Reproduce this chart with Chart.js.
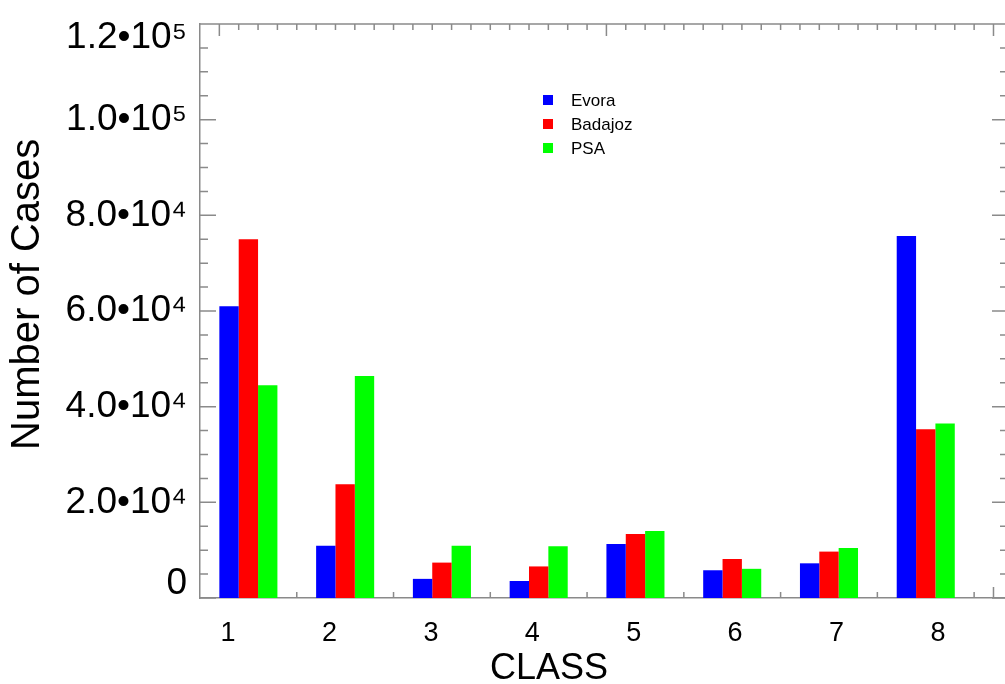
<!DOCTYPE html>
<html>
<head>
<meta charset="utf-8">
<script src="https://cdn.jsdelivr.net/npm/chart.js@4.4.1/dist/chart.umd.min.js"></script>
<style>
html, body { margin: 0; padding: 0; background: #ffffff; overflow: hidden; }
#wrap { position: absolute; left: 0; top: 0; width: 1016px; height: 684px; }
</style>
</head>
<body>
<div id="wrap"><canvas id="chart"></canvas></div>
<script>
// ---- data ----
const classes = [1, 2, 3, 4, 5, 6, 7, 8];
const classLabels = ['1', '2', '3', '4', '5', '6', '7', '8'];
const evora   = [61000, 10900, 4000, 3550, 11300, 5800, 7250, 75700];
const badajoz = [75000, 23800, 7400, 6600, 13400, 8150, 9700, 35300];
const psa     = [44500, 46400, 10900, 10800, 14000, 6100, 10450, 36500];
const seriesNames = ['Evora', 'Badajoz', 'PSA'];
const yTickValues = [0, 20000, 40000, 60000, 80000, 100000, 120000];
const yTickLabels = ['0', '2.0•10⁴', '4.0•10⁴', '6.0•10⁴', '8.0•10⁴', '1.0•10⁵', '1.2•10⁵'];

// ---- style ----
const seriesColors = ['#0000ff', '#ff0000', '#00ff00'];
const axisColor = '#8a8a8a';
const FONT = '"Liberation Sans", Arial, Helvetica, sans-serif';

const seriesData = [evora, badajoz, psa];

const frameTicks = {
  id: 'frameTicks',
  afterDatasetsDraw(chart) {
    const { ctx, chartArea: a, scales: { x, y } } = chart;
    ctx.save();
    ctx.strokeStyle = axisColor;
    ctx.lineWidth = 1.5;
    ctx.beginPath();
    ctx.moveTo(a.left, a.top); ctx.lineTo(a.right, a.top); ctx.lineTo(a.right, a.bottom);
    for (let v = 0; v <= 120000; v += 5000) {
      const p = y.getPixelForValue(v);
      const len = v % 20000 === 0 ? 16 : 8;
      ctx.moveTo(a.left, p); ctx.lineTo(a.left + len, p);
      ctx.moveTo(a.right, p); ctx.lineTo(a.right - len, p);
    }
    for (let k = 0; k <= 40; k++) {
      const p = x.getPixelForValue(0.7 + 0.2 * k);
      const len = k % 20 === 0 ? 12 : 6;
      ctx.moveTo(p, a.top); ctx.lineTo(p, a.top + len);
    }
    for (let k = 0; k < 8; k++) {
      const p = x.getPixelForValue(1.5 + k);
      ctx.moveTo(p, a.bottom); ctx.lineTo(p, a.bottom - 6);
    }
    const pe = x.getPixelForValue(8.7);
    ctx.moveTo(pe, a.bottom); ctx.lineTo(pe, a.bottom - 11);
    ctx.stroke();
    ctx.restore();
  }
};

const boxLegend = {
  id: 'boxLegend',
  afterDraw(chart) {
    const { ctx } = chart;
    ctx.save();
    ctx.font = '17px ' + FONT;
    ctx.textBaseline = 'middle';
    ctx.textAlign = 'left';
    chart.data.datasets.forEach((ds, i) => {
      const cy = 100 + 24 * i;
      ctx.fillStyle = ds.backgroundColor;
      ctx.fillRect(543, cy - 5, 10, 10);
      ctx.fillStyle = '#000000';
      ctx.fillText(ds.label, 571, cy + 1);
    });
    ctx.restore();
  }
};

new Chart(document.getElementById('chart'), {
  type: 'bar',
  data: {
    datasets: seriesNames.map((name, s) => ({
      label: name,
      data: classes.map((c, i) => ({ x: c, y: seriesData[s][i] })),
      backgroundColor: seriesColors[s],
      borderWidth: 0,
      categoryPercentage: 0.6,
      barPercentage: 1.0
    }))
  },
  options: {
    responsive: true,
    maintainAspectRatio: false,
    animation: false,
    layout: { padding: { left: 0, right: 8, top: 24, bottom: 0 } },
    plugins: { legend: { display: false }, tooltip: { enabled: false } },
    scales: {
      x: {
        type: 'linear',
        offset: false,
        min: 0.5,
        max: 8.85,
        grid: { display: false, offset: false },
        border: { display: true, color: axisColor, width: 1.5 },
        afterBuildTicks: (s) => { s.ticks = classLabels.map((_, i) => ({ value: 0.79 + 1.048 * i })); },
        afterFit: (s) => { s.height = 86; s.paddingLeft = 0; s.paddingRight = 0; },
        ticks: {
          autoSkip: false,
          maxRotation: 0,
          padding: 11,
          color: '#000000',
          font: { family: FONT, size: 27 },
          callback: (v, i) => classLabels[i]
        },
        title: {
          display: true,
          text: 'CLASS' + ' '.repeat(11),
          color: '#000000',
          font: { family: FONT, size: 36, lineHeight: 0.85 },
          padding: { top: 0, bottom: 0 }
        }
      },
      y: {
        min: 0,
        max: 120000,
        grid: { display: false },
        border: { display: true, color: axisColor, width: 1.5 },
        afterBuildTicks: (s) => { s.ticks = yTickValues.map(v => ({ value: v })); },
        afterFit: (s) => { s.width = 200; s.paddingTop = 0; s.paddingBottom = 0; },
        ticks: {
          padding: 5,
          color: '#000000',
          font: { family: FONT, size: 37, lineHeight: 0.76 },
          callback: (v, i) => {
            const t = yTickLabels[i];
            if (i === 0) return [t, ''];
            if (i === yTickLabels.length - 1) return ['', t];
            return t;
          }
        },
        title: {
          display: true,
          text: '   Number of Cases',
          color: '#000000',
          font: { family: FONT, size: 40, lineHeight: 1.0 },
          padding: { top: 8, bottom: 0 }
        }
      }
    }
  },
  plugins: [frameTicks, boxLegend]
});
</script>
</body>
</html>
